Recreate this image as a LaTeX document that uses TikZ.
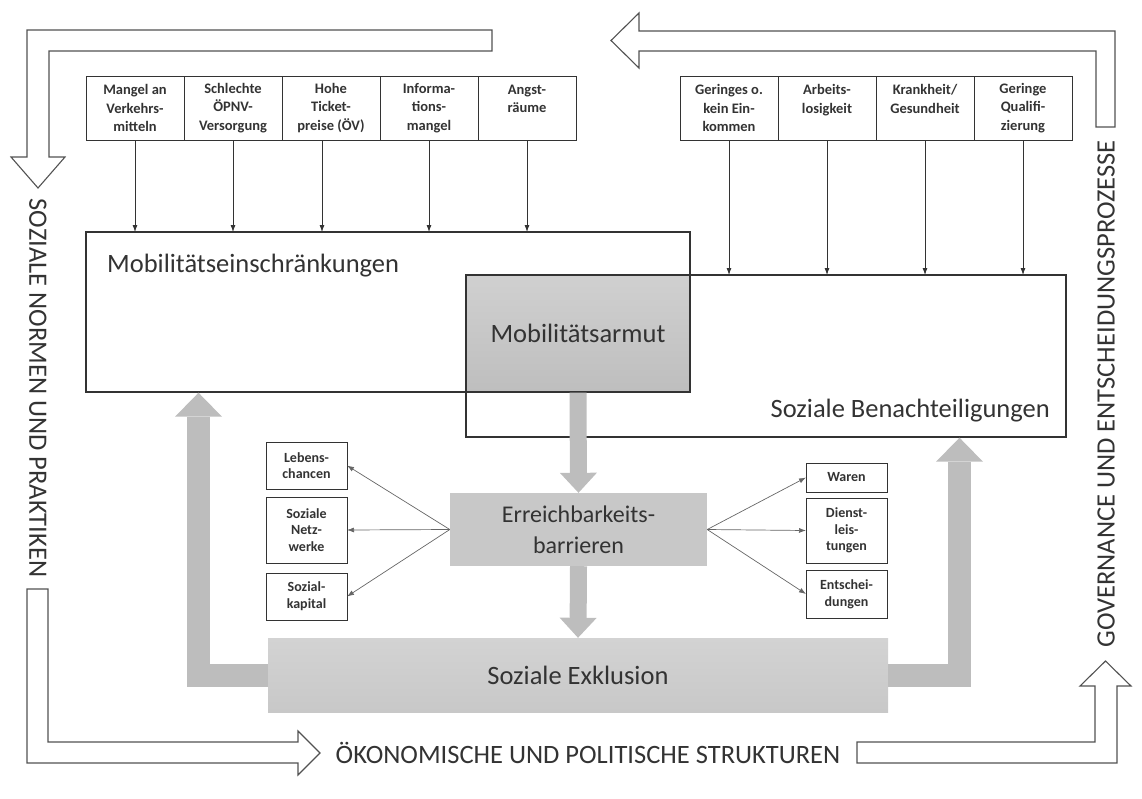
\documentclass[tikz,border=0pt]{standalone}
\usepackage{fontspec}
\setmainfont{Carlito}
\usetikzlibrary{positioning,arrows.meta}
\definecolor{ink}{HTML}{333333}
\definecolor{boxgray}{HTML}{C8C8C8}
\definecolor{flowgray}{HTML}{BDBDBD}
\tikzset{
  cause/.style={draw=ink, line width=1pt, minimum width=98pt, minimum height=64pt, inner sep=0pt, outer sep=0pt, align=center, text=ink, font=\bfseries\fontsize{14.5}{18.3}\selectfont},
  effect/.style={draw=ink, line width=1pt, minimum width=81pt, inner sep=0pt, outer sep=0pt, align=center, text=ink, font=\bfseries\fontsize{14}{16.7}\selectfont},
  area/.style={draw=ink, line width=1.3pt, inner sep=0pt, outer sep=0pt},
  biglabel/.style={text=ink, inner sep=0pt, font=\fontsize{26.5}{31}\selectfont},
  push/.style={draw=ink, line width=0.8pt, -{Latex[length=7pt,width=5pt]}},
  reach/.style={draw=ink!75, line width=0.7pt, -{Latex[length=7pt,width=5pt]}},
  flow/.style={draw=flowgray, line join=miter},
  hollow/.style={draw=ink!85, line width=1.1pt, fill=white, line join=miter},
}
\begin{document}
\begin{tikzpicture}[x=1pt, y=-1pt]
\useasboundingbox (0,0) rectangle (1142,798);

% frame arrows
\draw[hollow] (492,30) -- (27,30) -- (27,157) -- (11,157) -- (38,188) -- (65,157) -- (49,157) -- (49,51) -- (492,51) -- cycle;
\draw[hollow] (1096,127) -- (1096,51) -- (639,51) -- (639,68) -- (611,40.5) -- (639,13) -- (639,31) -- (1115,31) -- (1115,127) -- cycle;
\draw[hollow] (27,589) -- (48,589) -- (48,742) -- (298,742) -- (298,731) -- (320,753) -- (298,775) -- (298,763) -- (27,763) -- cycle;
\draw[hollow] (857,742) -- (1095,742) -- (1095,686) -- (1080,686) -- (1105.5,661) -- (1131,686) -- (1117,686) -- (1117,763) -- (857,763) -- cycle;
\node[biglabel, rotate=-90] (norms) at (38,388) {SOZIALE NORMEN UND PRAKTIKEN};
\node[biglabel, rotate=90] (gov) at (1106,394) {GOVERNANCE UND ENTSCHEIDUNGSPROZESSE};
\node[biglabel] (struct) at (588,753) {ÖKONOMISCHE UND POLITISCHE STRUKTUREN};

% main areas
\node[area, anchor=north west, minimum width=604pt, minimum height=160pt] (ME) at (86,232) {};
\node[area, anchor=north west, minimum width=600pt, minimum height=162pt] (SB) at (466,275) {};
\node[area, anchor=north west, minimum width=224pt, minimum height=117pt, top color=boxgray!85, bottom color=boxgray!95!black, biglabel] (MA) at (466,275) {Mobilitätsarmut};
\node[biglabel, anchor=base west] (MElab) at (107,272) {Mobilitätseinschränkungen};
\node[biglabel, anchor=base east] (SBlab) at (1050,417) {Soziale Benachteiligungen};

\node[biglabel, font=\fontsize{24}{31}\selectfont, fill=boxgray, minimum width=257pt, minimum height=73pt, align=center] (ER) at (578.5,529.5) {Erreichbarkeits-\\barrieren};
\node[biglabel, top color=boxgray!80, bottom color=boxgray, minimum width=620pt, minimum height=74pt] (SE) at (578,675) {Soziale Exklusion};

% causes
\node[cause] (c1) at (135,108) {Mangel an\\Verkehrs-\\mitteln};
\node[cause, right=0pt of c1] (c2) {Schlechte\\ÖPNV-\\Versorgung};
\node[cause, right=0pt of c2] (c3) {Hohe\\Ticket-\\preise (ÖV)};
\node[cause, right=0pt of c3] (c4) {Informa-\\tions-\\mangel};
\node[cause, right=0pt of c4] (c5) {Angst-\\räume\\~};
\node[cause] (d1) at (729,108) {Geringes o.\\kein Ein-\\kommen};
\node[cause, right=0pt of d1] (d2) {Arbeits-\\losigkeit\\~};
\node[cause, right=0pt of d2] (d3) {Krankheit/\\Gesundheit\\~};
\node[cause, right=0pt of d3] (d4) {Geringe\\Qualifi-\\zierung};

\foreach \n in {c1,c2,c4,c5}
  \draw[push] (\n.south) -- (\n.south |- ME.north);
\draw[push] ([xshift=-9pt]c3.south) -- ([xshift=-9pt]c3.south |- ME.north);
\foreach \n in {d1,d2,d3,d4}
  \draw[push] (\n.south) -- (\n.south |- SB.north);

% access
\node[effect, minimum height=47pt] (life) at (306.5,465.5) {Lebens-\\chancen};
\node[effect, minimum height=66pt, below=8pt of life] (net) {Soziale\\Netz-\\werke};
\node[effect, minimum height=47pt, below=10pt of net] (cap) {Sozial-\\kapital};
\node[effect, minimum height=29pt] (goods) at (846.5,477.5) {Waren};
\node[effect, minimum height=65pt, below=6pt of goods] (serv) {Dienst-\\leis-\\tungen};
\node[effect, minimum height=48pt, below=7pt of serv] (dec) {Entschei-\\dungen};

\foreach \n in {life,net,cap}
  \draw[reach] (ER.west) -- (\n.east);
\foreach \n in {goods,serv,dec}
  \draw[reach] (ER.east) -- (\n.west);

% gray flows
\draw[flow, line width=17pt, -{Triangle[length=20pt,width=37pt,line width=0pt]}, shorten <=0.7pt] (MA.south) -- (ER.north);
\draw[flow, line width=17pt, -{Triangle[length=20pt,width=37pt,line width=0pt]}] (ER.south) -- (SE.north);
\draw[flow, line width=23pt, -{Triangle[length=24pt,width=47pt,line width=0pt]}, shorten >=0.7pt] (SE.west) -| ([xshift=112.5pt]ME.south west);
\draw[flow, line width=23pt, -{Triangle[length=24pt,width=47pt,line width=0pt]}, shorten >=0.7pt] (SE.east) -| ([xshift=-106.5pt]SB.south east);
\end{tikzpicture}
\end{document}
